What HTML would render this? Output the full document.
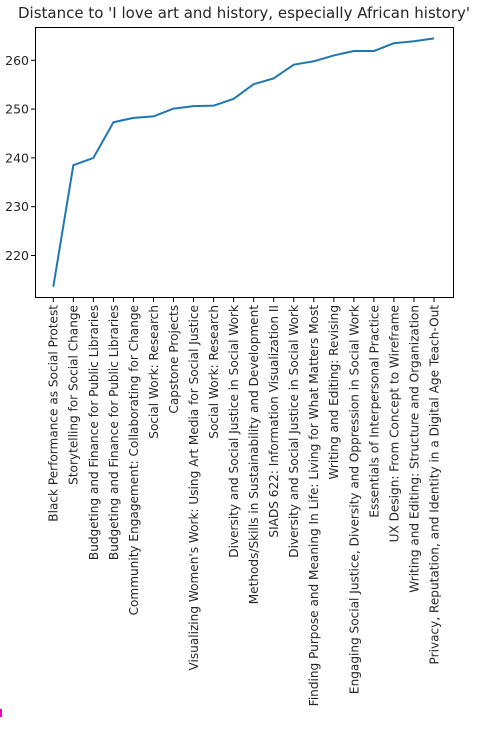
<!DOCTYPE html>
<html><head><meta charset="utf-8"><style>
body{margin:0;background:#fff;width:477px;height:733px;overflow:hidden}
text{font-family:"DejaVu Sans","Liberation Sans",sans-serif;fill:#262626}
</style></head><body>
<svg width="477" height="733">
<text x="244" y="18" font-size="15" text-anchor="middle">Distance to 'I love art and history, especially African history'</text>
<rect x="35.5" y="27.5" width="418" height="270" fill="none" stroke="#000" stroke-width="1"/>
<g id="yax"></g><g id="xax"></g>
<polyline id="line" fill="none" stroke="#1f77b4" stroke-width="2" stroke-linejoin="round"/>
<rect x="0" y="709" width="2" height="8" fill="#f0c"/>
</svg>
<script>
const categories=["Black Performance as Social Protest","Storytelling for Social Change","Budgeting and Finance for Public Libraries","Budgeting and Finance for Public Libraries","Community Engagement: Collaborating for Change","Social Work: Research","Capstone Projects","Visualizing Women's Work: Using Art Media for Social Justice","Social Work: Research","Diversity and Social Justice in Social Work","Methods/Skills in Sustainability and Development","SIADS 622: Information Visualization II","Diversity and Social Justice in Social Work","Finding Purpose and Meaning In Life: Living for What Matters Most","Writing and Editing: Revising","Engaging Social Justice, Diversity and Oppression in Social Work","Essentials of Interpersonal Practice","UX Design: From Concept to Wireframe","Writing and Editing: Structure and Organization","Privacy, Reputation, and Identity in a Digital Age Teach-Out"];
const values=[213.6,238.5,240,247.3,248.2,248.5,250.1,250.6,250.7,252.1,255.1,256.3,259.1,259.8,261,261.9,261.9,263.5,263.9,264.5];
const yTicks=[220,230,240,250,260];
const NS="http://www.w3.org/2000/svg";
const x=i=>53.3+i*(434-53.3)/(categories.length-1);
const y=v=>60.3+(260-v)*4.88;
const yax=document.getElementById('yax'),xax=document.getElementById('xax');
yTicks.forEach(t=>{
 const l=document.createElementNS(NS,'line');
 
 
 l.setAttribute('x1',31);l.setAttribute('x2',35.5);l.setAttribute('y1',y(t));l.setAttribute('y2',y(t));l.setAttribute('stroke','#000');
 yax.appendChild(l);
 const tx=document.createElementNS(NS,'text');
 
 
 tx.setAttribute('x',29);tx.setAttribute('y',y(t)+4.5);tx.setAttribute('font-size','12.5');tx.setAttribute('text-anchor','end');tx.textContent=t;
 yax.appendChild(tx);
});
categories.forEach((c,i)=>{
 const l=document.createElementNS(NS,'line');
 
 
 l.setAttribute('x1',x(i));l.setAttribute('x2',x(i));l.setAttribute('y1',297.5);l.setAttribute('y2',302);l.setAttribute('stroke','#000');
 xax.appendChild(l);
 const tx=document.createElementNS(NS,'text');
 
 
 tx.setAttribute('font-size','12.1');tx.setAttribute('text-anchor','end');
 tx.setAttribute('transform','translate('+(x(i)+4.4)+',305) rotate(-90)');
 tx.textContent=c;
 xax.appendChild(tx);
});
document.getElementById('line').setAttribute('points',values.map((v,i)=>x(i)+','+y(v)).join(' '));
</script>
</body></html>
